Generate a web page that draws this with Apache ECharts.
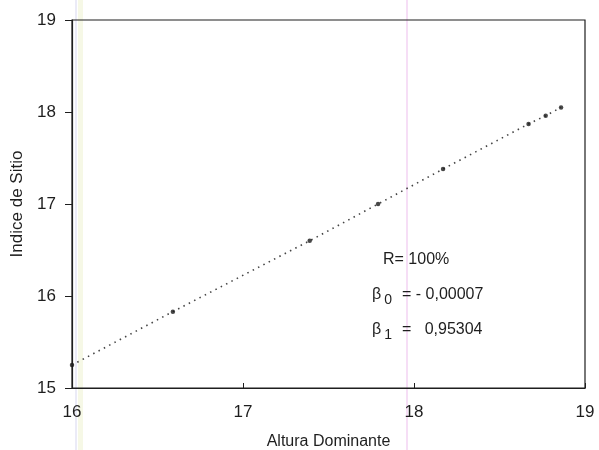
<!DOCTYPE html>
<html>
<head>
<meta charset="utf-8">
<script src="https://cdn.jsdelivr.net/npm/echarts@6/dist/echarts.min.js"></script>
<style>
  html, body { margin: 0; padding: 0; background: #fff; }
  #chart { width: 599px; height: 450px; }
</style>
</head>
<body>
<div id="chart"></div>
<script>
// Altura dominante vs índice de sitio
const alturaDominante = [16.00, 16.59, 17.39, 17.79, 18.17, 18.67, 18.77, 18.86];
const indiceSitio     = [15.25, 15.83, 16.60, 17.00, 17.38, 17.87, 17.96, 18.05];
const xTicks = [16, 17, 18, 19];
const yTicks = [15, 16, 17, 18, 19];
const statLines = [
  { label: 'R', sub: '', value: '100%' },
  { label: 'β', sub: '0', value: '- 0,00007' },
  { label: 'β', sub: '1', value: '  0,95304' }
];

const points = alturaDominante.map((x, i) => [x, indiceSitio[i]]);
const font = 'Liberation Sans, Arial, sans-serif';
const ink = '#1e1e1e';

const chart = echarts.init(document.getElementById('chart'));

const statText = statLines.map(s =>
  s.sub
    ? `{b|${s.label}}{s|${s.sub}}{b|= ${s.value}}`
    : `{ind|}{b|${s.label}= ${s.value}}`
).join('\n');

chart.setOption({
  backgroundColor: '#ffffff',
  animation: false,
  grid: {
    left: 72, right: 14, top: 20, bottom: 62,
    outerBoundsMode: 'none',
    show: true, borderColor: ink, borderWidth: 1.2
  },
  xAxis: {
    type: 'value',
    min: xTicks[0], max: xTicks[xTicks.length - 1], interval: 1,
    name: 'Altura Dominante', nameLocation: 'middle', nameGap: 46,
    nameTextStyle: { fontFamily: font, fontSize: 16, color: ink },
    axisLine: { lineStyle: { color: ink, width: 1.2 } },
    axisTick: { inside: true, length: 5, lineStyle: { color: ink } },
    axisLabel: { fontFamily: font, fontSize: 17, color: ink, margin: 16 },
    splitLine: { show: false }
  },
  yAxis: {
    type: 'value',
    min: yTicks[0], max: yTicks[yTicks.length - 1], interval: 1,
    name: 'Indice de Sitio', nameLocation: 'middle', nameGap: 45, nameRotate: 90,
    nameTextStyle: { fontFamily: font, fontSize: 17, color: ink },
    axisLine: { lineStyle: { color: ink, width: 1.2 } },
    axisTick: { inside: false, length: 7, lineStyle: { color: ink } },
    axisLabel: { fontFamily: font, fontSize: 17, color: ink, margin: 16 },
    splitLine: { show: false }
  },
  graphic: [
    // faint coloured streaks across the page
    { type: 'rect', shape: { x: 75, y: 0, width: 2, height: 450 }, style: { fill: 'rgba(205,205,235,0.4)' }, silent: true, z: -1 },
    { type: 'rect', shape: { x: 78, y: 0, width: 5, height: 450 }, style: { fill: 'rgba(238,242,205,0.5)' }, silent: true, z: -1 },
    { type: 'rect', shape: { x: 406, y: 0, width: 2, height: 450 }, style: { fill: 'rgba(238,195,238,0.55)' }, silent: true, z: -1 },
    {
      type: 'text', left: 372, top: 242, z: 10,
      style: {
        text: statText,
        fontFamily: font, fontSize: 16, fill: ink, lineHeight: 35,
        rich: {
          ind: { width: 11, lineHeight: 35 },
          b: { fontFamily: font, fontSize: 16, fill: ink, lineHeight: 35 },
          s: { fontFamily: font, fontSize: 14, fill: ink, padding: [12, 10, 0, 3], lineHeight: 35 }
        }
      }
    }
  ],
  series: [
    {
      type: 'line',
      data: points,
      showSymbol: false,
      lineStyle: { color: '#444', width: 1.6, type: [1.5, 4.5] },
      z: 2
    },
    {
      type: 'scatter',
      data: points,
      symbol: 'circle',
      symbolSize: 4.5,
      itemStyle: { color: '#1a1a1a' },
      z: 3
    }
  ]
});
</script>
</body>
</html>
